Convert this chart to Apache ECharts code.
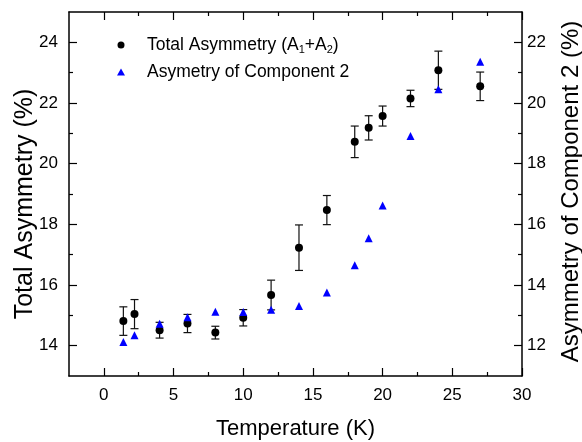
<!DOCTYPE html>
<html>
<head>
<meta charset="utf-8">
<script src="https://cdn.jsdelivr.net/npm/echarts@6/dist/echarts.min.js"></script>
<style>
  html, body { margin: 0; padding: 0; background: #fff; }
  #chart { width: 582px; height: 442px; }
</style>
</head>
<body>
<div id="chart"></div>
<script>
// Temperature points (K)
const temperature = [1.4, 2.2, 4, 6, 8, 10, 12, 14, 16, 18, 19, 20, 22, 24, 27];
// Total asymmetry A1+A2 (%) and its error bar half-widths
const totalAsym = [14.81, 15.04, 14.51, 14.73, 14.43, 14.92, 15.67, 17.23, 18.47, 20.72, 21.18, 21.57, 22.15, 23.08, 22.55];
const totalErr = [0.47, 0.48, 0.26, 0.30, 0.21, 0.27, 0.49, 0.75, 0.48, 0.52, 0.40, 0.33, 0.27, 0.63, 0.47];
// Asymmetry of component 2 (%), right axis
const comp2Asym = [12.12, 12.34, 12.72, 12.94, 13.12, 13.11, 13.18, 13.31, 13.75, 14.65, 15.54, 16.62, 18.91, 20.45, 21.36];

// Tick positions
const xMajor = [0, 5, 10, 15, 20, 25, 30];
const xMinor = [2.5, 7.5, 12.5, 17.5, 22.5, 27.5];
const yLeftMajor = [14, 16, 18, 20, 22, 24];
const yLeftMinor = [15, 17, 19, 21, 23];
const yRightMajor = [12, 14, 16, 18, 20, 22];
const yRightMinor = [13, 15, 17, 19, 21];

const NAME_TOTAL = 'Total Asymmetry (A1+A2)';
const NAME_C2 = 'Asymetry of Component 2';

const FONT = "'Liberation Sans', Arial, sans-serif";
const X_RANGE = [-2.5, 30];
const YL_RANGE = [13, 25];
const YR_RANGE = [11, 23];

function majorTicks(values, showLabel, extra) {
  return Object.assign({
    axisLine: { show: true, onZero: false, lineStyle: { color: '#000', width: 1.5 } },
    axisTick: { show: true, inside: true, length: 8, customValues: values, lineStyle: { color: '#000', width: 1.2 } },
    axisLabel: showLabel
      ? { show: true, customValues: values, fontSize: 17, color: '#000', fontFamily: FONT }
      : { show: false },
    splitLine: { show: false },
    minorTick: { show: false }
  }, extra);
}
function minorTicks(values, extra) {
  return Object.assign({
    axisLine: { show: false, onZero: false },
    axisTick: { show: true, inside: true, length: 4, customValues: values, lineStyle: { color: '#000', width: 1.2 } },
    axisLabel: { show: false },
    splitLine: { show: false }
  }, extra);
}

const xAxes = [
  majorTicks(xMajor, true, {
    type: 'value', position: 'bottom', min: X_RANGE[0], max: X_RANGE[1],
    name: 'Temperature (K)', nameLocation: 'middle', nameGap: 42, nameMoveOverlap: false,
    nameTextStyle: { fontSize: 22, color: '#000', fontFamily: FONT }
  }),
  minorTicks(xMinor, { type: 'value', position: 'bottom', min: X_RANGE[0], max: X_RANGE[1] }),
  majorTicks(xMajor, false, { type: 'value', position: 'top', min: X_RANGE[0], max: X_RANGE[1] }),
  minorTicks(xMinor, { type: 'value', position: 'top', min: X_RANGE[0], max: X_RANGE[1] })
];
xAxes[0].axisLabel.margin = 11;

const yAxes = [
  majorTicks(yLeftMajor, true, {
    type: 'value', position: 'left', min: YL_RANGE[0], max: YL_RANGE[1],
    name: 'Total Asymmetry (%)', nameLocation: 'middle', nameGap: 31, nameMoveOverlap: false,
    nameTextStyle: { fontSize: 25, color: '#000', fontFamily: FONT, padding: [0, 20, 0, 0] }
  }),
  majorTicks(yRightMajor, true, {
    type: 'value', position: 'right', min: YR_RANGE[0], max: YR_RANGE[1],
    name: 'Asymmetry of Component 2 (%)', nameLocation: 'middle', nameGap: 37, nameMoveOverlap: false,
    nameTextStyle: { fontSize: 24, color: '#000', fontFamily: FONT, padding: [0, 0, 0, 5] }
  }),
  minorTicks(yLeftMinor, { type: 'value', position: 'left', min: YL_RANGE[0], max: YL_RANGE[1] }),
  minorTicks(yRightMinor, { type: 'value', position: 'right', min: YR_RANGE[0], max: YR_RANGE[1] })
];
yAxes[0].axisLabel.margin = 11;
yAxes[1].axisLabel.margin = 5;

const totalData = temperature.map((t, i) => [t, totalAsym[i], totalErr[i]]);
const comp2Data = temperature.map((t, i) => [t, comp2Asym[i]]);

// Vertical error bars with short caps
function renderErrorBar(params, api) {
  const x = api.value(0), y = api.value(1), e = api.value(2);
  const top = api.coord([x, y + e]);
  const bot = api.coord([x, y - e]);
  const hw = 4;
  const style = { stroke: '#111', lineWidth: 1.2 };
  return {
    type: 'group',
    children: [
      { type: 'line', shape: { x1: top[0], y1: top[1], x2: bot[0], y2: bot[1] }, style },
      { type: 'line', shape: { x1: top[0] - hw, y1: top[1], x2: top[0] + hw, y2: top[1] }, style },
      { type: 'line', shape: { x1: bot[0] - hw, y1: bot[1], x2: bot[0] + hw, y2: bot[1] }, style }
    ]
  };
}

const chart = echarts.init(document.getElementById('chart'), null, { renderer: 'canvas' });
chart.setOption({
  animation: false,
  backgroundColor: '#fff',
  grid: { left: 69, top: 12, width: 453, height: 364, containLabel: false, outerBoundsMode: 'none' },
  xAxis: xAxes,
  yAxis: yAxes,
  legend: {
    orient: 'vertical',
    left: 112,
    top: 30,
    itemWidth: 8,
    itemHeight: 7,
    itemGap: 7,
    selectedMode: false,
    data: [{ name: NAME_TOTAL, icon: 'circle' }, { name: NAME_C2, icon: 'triangle' }],
    formatter: function (name) {
      if (name === NAME_TOTAL) return 'Total Asymmetry (A{sub|1}+A{sub|2})';
      return name;
    },
    textStyle: {
      fontSize: 17.5, color: '#000', fontFamily: FONT, lineHeight: 20,
      padding: [0, 0, 0, 17],
      rich: { sub: { fontSize: 11, lineHeight: 8, verticalAlign: 'bottom', fontFamily: FONT, color: '#000' } }
    }
  },
  series: [
    {
      name: 'errorbars',
      type: 'custom',
      xAxisIndex: 0,
      yAxisIndex: 0,
      renderItem: renderErrorBar,
      encode: { x: 0, y: 1 },
      data: totalData,
      z: 2,
      silent: true
    },
    {
      name: NAME_TOTAL,
      type: 'scatter',
      xAxisIndex: 0,
      yAxisIndex: 0,
      symbol: 'circle',
      symbolSize: 8,
      itemStyle: { color: '#000', opacity: 1 },
      data: totalData.map(d => [d[0], d[1]]),
      z: 3
    },
    {
      name: NAME_C2,
      type: 'scatter',
      xAxisIndex: 0,
      yAxisIndex: 1,
      symbol: 'triangle',
      symbolSize: 8,
      itemStyle: { color: '#0000ff', opacity: 1 },
      data: comp2Data,
      z: 3
    }
  ]
});
</script>
</body>
</html>
